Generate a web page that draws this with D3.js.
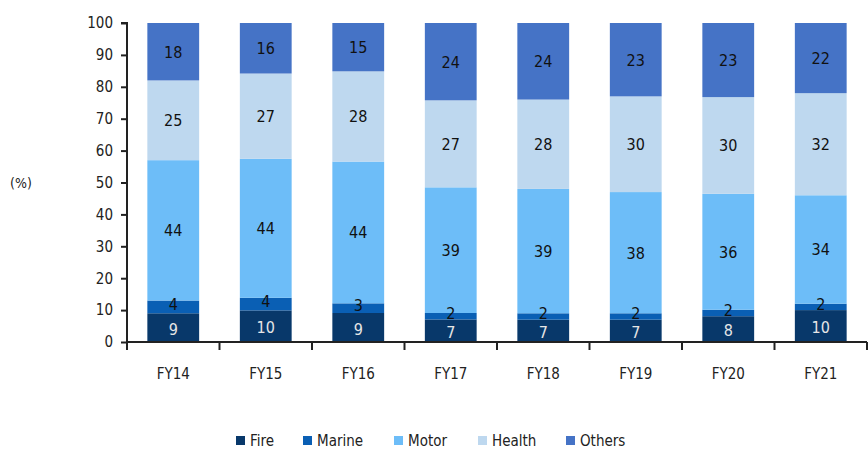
<!DOCTYPE html>
<html>
<head>
<meta charset="utf-8">
<script src="https://cdn.jsdelivr.net/npm/d3@7"></script>
<style>
  body { margin: 0; background: #fff; }
  text { font-family: "DejaVu Sans Condensed", "Liberation Sans Narrow", "Liberation Sans", sans-serif; }
</style>
</head>
<body>
<svg id="chart" width="868" height="450"></svg>
<script>
var years = ['FY14', 'FY15', 'FY16', 'FY17', 'FY18', 'FY19', 'FY20', 'FY21'];
var seriesNames = ['Fire', 'Marine', 'Motor', 'Health', 'Others'];
var fire   = [9, 10, 9, 7, 7, 7, 8, 10];
var marine = [4, 4, 3, 2, 2, 2, 2, 2];
var motor  = [44, 44, 44, 39, 39, 38, 36, 34];
var health = [25, 27, 28, 27, 28, 30, 30, 32];
var others = [18, 16, 15, 24, 24, 23, 23, 22];
var yTicks = [0, 10, 20, 30, 40, 50, 60, 70, 80, 90, 100];

var colors = ['#08386a', '#0a5fb4', '#6dbdf8', '#bed8ef', '#4573c6'];
var labelColors = ['#e6e6e6', '#111', '#111', '#111', '#111'];
// small vertical nudge per series so the thin segments read like the original
var labelShift = [1, -3, 0, 0, 0];

var rows = years.map(function(y, i) {
  return { year: y, Fire: fire[i], Marine: marine[i], Motor: motor[i], Health: health[i], Others: others[i] };
});

var svg = d3.select('#chart');

var x = d3.scaleBand().domain(years).range([127, 867]).paddingInner(0.44).paddingOuter(0.22);
var y = d3.scaleLinear().domain([0, 100]).range([342, 23]);

var stack = d3.stack().keys(seriesNames).offset(d3.stackOffsetExpand);
var layers = stack(rows);

var g = svg.append('g');

layers.forEach(function(layer, li) {
  g.append('g').selectAll('rect')
      .data(layer)
    .enter().append('rect')
      .attr('x', function(d) { return x(d.data.year); })
      .attr('y', function(d) { return y(d[1] * 100); })
      .attr('width', x.bandwidth())
      .attr('height', function(d) { return y(d[0] * 100) - y(d[1] * 100); })
      .attr('fill', colors[li]);
});

layers.forEach(function(layer, li) {
  g.append('g').selectAll('text')
      .data(layer)
    .enter().append('text')
      .attr('x', function(d) { return x(d.data.year) + x.bandwidth() / 2; })
      .attr('y', function(d) { return y((d[0] + d[1]) / 2 * 100) + 6 + labelShift[li]; })
      .attr('text-anchor', 'middle')
      .attr('font-size', 16)
      .attr('fill', labelColors[li])
      .text(function(d) { return d.data[layer.key]; });
});

// y axis
var yAxis = svg.append('g')
    .attr('transform', 'translate(127,0)')
    .call(d3.axisLeft(y).tickValues(yTicks).tickSize(6).tickPadding(8));
yAxis.select('.domain').attr('stroke', '#222').attr('stroke-width', 2).attr('d', 'M-6,23H0V342');
yAxis.selectAll('.tick line').attr('stroke', '#222').attr('stroke-width', 2);
yAxis.selectAll('.tick text').attr('font-size', 15).attr('fill', '#222')
    .style('font-family', '"DejaVu Sans Condensed", "Liberation Sans", sans-serif');

// x axis
var xAxis = svg.append('g').attr('transform', 'translate(0,342)');
xAxis.append('line').attr('x1', 127).attr('x2', 867).attr('stroke', '#222').attr('stroke-width', 2);
var bounds = d3.range(years.length + 1).map(function(i) { return 127 + i * (740 / years.length); });
xAxis.selectAll('line.tk')
    .data(bounds)
  .enter().append('line')
    .attr('class', 'tk')
    .attr('x1', function(d) { return d; })
    .attr('x2', function(d) { return d; })
    .attr('y1', 0).attr('y2', 8)
    .attr('stroke', '#222').attr('stroke-width', 2);
xAxis.selectAll('text')
    .data(years)
  .enter().append('text')
    .attr('x', function(d) { return x(d) + x.bandwidth() / 2; })
    .attr('y', 37)
    .attr('text-anchor', 'middle')
    .attr('font-size', 15)
    .attr('fill', '#222')
    .text(function(d) { return d; });

svg.append('text')
    .attr('x', 10).attr('y', 188)
    .attr('font-size', 14)
    .attr('fill', '#222')
    .text('(%)');

// legend
var legendX = [236, 303, 394, 478, 566];
var legend = svg.append('g').attr('transform', 'translate(0,441)');
seriesNames.forEach(function(name, i) {
  var item = legend.append('g').attr('transform', 'translate(' + legendX[i] + ',0)');
  item.append('rect').attr('x', 0).attr('y', -5).attr('width', 9).attr('height', 9).attr('fill', colors[i]);
  item.append('text').attr('x', 14).attr('y', 5).attr('font-size', 15).attr('fill', '#222').text(name);
});
</script>
</body>
</html>
